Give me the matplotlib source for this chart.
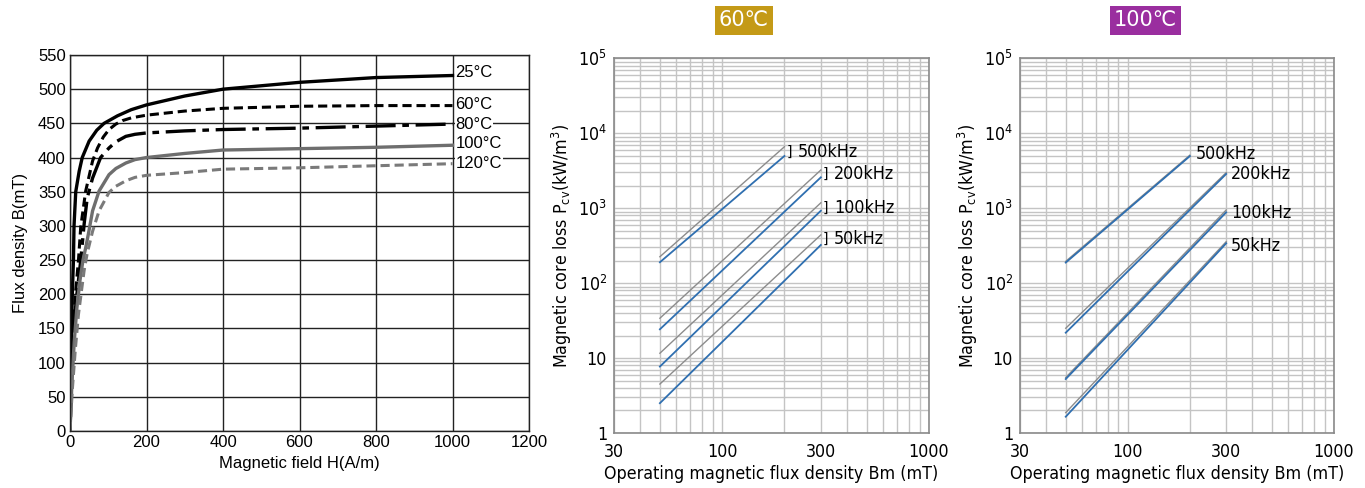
import matplotlib
matplotlib.use('Agg')
import matplotlib.pyplot as plt
from matplotlib import font_manager
from matplotlib.ticker import FixedLocator, FixedFormatter, LogLocator, NullFormatter

# ---------------- data ----------------
bh_labels = ['25°C', '60°C', '80°C', '100°C', '120°C']
H_25 = [0, 2, 4, 6, 9, 10.5, 15, 24, 32, 50, 70, 89, 124, 160, 200, 300, 400, 500, 600, 800, 1000]
B_25 = [0, 70, 140, 200, 250, 300, 350, 380, 400, 424, 440, 450, 461, 470, 477, 490, 500, 505, 510, 517, 520]
H_60 = [0, 4, 9, 14, 22, 28, 41, 59, 72, 87, 102, 120, 137, 160, 200, 250, 300, 400, 600, 800, 1000]
B_60 = [0, 90, 160, 200, 249, 298, 351, 395, 414, 430, 441, 449, 454, 458, 462, 465, 468, 472, 475, 476, 476]
H_80 = [0, 5, 11, 18, 28, 37, 45, 59, 80, 102, 120, 146, 170, 200, 300, 400, 600, 800, 1000]
B_80 = [0, 90, 160, 200, 249, 303, 341, 370, 400, 414, 423, 431, 434, 436, 439, 441, 443, 446, 449]
H_100 = [0, 5, 11, 18, 26, 34, 41, 48, 59, 76, 102, 120, 146, 170, 200, 300, 400, 600, 800, 1000]
B_100 = [0, 70, 130, 180, 220, 250, 268, 288, 322, 351, 375, 384, 392, 397, 400, 406, 411, 413, 415, 418]
H_120 = [0, 6, 14, 22, 30, 37, 45, 59, 76, 102, 120, 146, 170, 200, 300, 400, 600, 800, 1000]
B_120 = [0, 60, 120, 170, 205, 235, 260, 292, 322, 349, 358, 366, 371, 374, 378, 383, 385, 388, 391]
bh_label_y = [524, 478, 449, 420, 391]

freqs = ['500kHz', '200kHz', '100kHz', '50kHz']
bm_start = [50, 50, 50, 50]
bm_end = [200, 300, 300, 300]
p60_gray_start = [225, 34, 11.6, 4.5]
p60_gray_end = [6600, 3230, 1180, 440]
p60_blue_start = [190, 24.2, 7.7, 2.5]
p60_blue_end = [4970, 2580, 925, 323]
p100_gray_start = [195, 25, 5.5, 1.87]
p100_gray_end = [5100, 2980, 946, 357]
p100_blue_start = [188, 21.8, 5.25, 1.65]
p100_blue_end = [4950, 2860, 880, 340]
p60_label_x = [233, 347, 347, 347]
p60_label_y = [5620, 2860, 1000, 388]
p100_label_x = [214, 316, 316, 316]
p100_label_y = [5280, 2860, 870, 315]

x_ticks_log = [30, 100, 300, 1000]
x_ticklabels_log = ['30', '100', '300', '1000']
y_ticks_log = [1, 10, 100, 1000, 10000, 100000]
y_ticklabels_log = ['1', '10', r'$\mathregular{10^2}$', r'$\mathregular{10^3}$',
                    r'$\mathregular{10^4}$', r'$\mathregular{10^5}$']

# ---------------- fonts ----------------
names = {f.name for f in font_manager.fontManager.ttflist}
cond = any(f.name == 'DejaVu Sans' and f.stretch in ('condensed', 'semi-condensed')
           for f in font_manager.fontManager.ttflist)
if 'Liberation Sans Narrow' in names:
    LF = dict(family='Liberation Sans Narrow', size=14)
else:
    LF = dict(family='Liberation Sans', size=12)
if cond:
    RF = dict(family='DejaVu Sans', stretch='condensed', size=12.8)
else:
    RF = dict(family='Noto Sans', size=12.8)

plt.rcParams['mathtext.fontset'] = 'custom'
plt.rcParams['mathtext.rm'] = RF['family']

fig = plt.figure(figsize=(13.65, 4.88), dpi=100)

# ---------------- left B-H chart ----------------
ax = fig.add_axes([70/1365, 1-431/488, 459/1365, 376/488])
ax.set_xlim(0, 1200)
ax.set_ylim(0, 550)
ax.set_xticks(range(0, 1201, 200))
ax.set_yticks(range(0, 551, 50))
ax.grid(True, color='#222222', lw=1.0)
ax.set_axisbelow(True)
ax.tick_params(length=0, pad=3)
for lab in ax.get_xticklabels() + ax.get_yticklabels():
    lab.set_fontfamily(LF['family']); lab.set_fontsize(LF['size'])
for s in ax.spines.values():
    s.set_color('#222222'); s.set_linewidth(1.0)

ax.plot(H_25, B_25, color='black', lw=2.4, solid_joinstyle='round')
ax.plot(H_60, B_60, color='black', lw=2.2, ls=(0, (3, 1.6)))
ax.plot(H_80, B_80, color='black', lw=2.4, ls=(0, (9, 2, 2, 2)))
ax.plot(H_100, B_100, color='#6e6e6e', lw=2.4, solid_joinstyle='round')
ax.plot(H_120, B_120, color='#7a7a7a', lw=2.2, ls=(0, (3, 1.6)))
for t, yv in zip(bh_labels, bh_label_y):
    ax.text(1008, yv, t, ha='left', va='center', fontfamily=LF['family'],
            fontsize=LF['size'], bbox=dict(facecolor='white', edgecolor='none', pad=0.5))
ax.set_xlabel('Magnetic field H(A/m)', fontfamily=LF['family'], fontsize=LF['size'], labelpad=4)
ax.set_ylabel('Flux density B(mT)', fontfamily=LF['family'], fontsize=LF['size'], labelpad=7)


# ---------------- core loss charts ----------------
def core_ax(rect, gs, ge, bs, be, lx, ly, bracket):
    a = fig.add_axes(rect)
    a.set_xscale('log'); a.set_yscale('log')
    a.set_xlim(30, 1000); a.set_ylim(1, 1e5)
    a.xaxis.set_major_locator(FixedLocator(x_ticks_log))
    a.xaxis.set_major_formatter(FixedFormatter(x_ticklabels_log))
    a.yaxis.set_major_locator(FixedLocator(y_ticks_log))
    a.yaxis.set_major_formatter(FixedFormatter(y_ticklabels_log))
    a.xaxis.set_minor_locator(LogLocator(base=10, subs=range(2, 10), numticks=20))
    a.yaxis.set_minor_locator(LogLocator(base=10, subs=range(2, 10), numticks=20))
    a.xaxis.set_minor_formatter(NullFormatter())
    a.yaxis.set_minor_formatter(NullFormatter())
    a.grid(True, which='both', color='#c4c4c4', lw=1.0)
    a.set_axisbelow(True)
    a.tick_params(which='both', length=0)
    a.tick_params(axis='x', pad=7)
    a.tick_params(axis='y', pad=5)
    for lab in a.get_xticklabels() + a.get_yticklabels():
        lab.set_fontfamily(RF['family']); lab.set_fontsize(RF['size'])
        if 'stretch' in RF:
            lab.set_fontstretch(RF['stretch'])
    for s in a.spines.values():
        s.set_color('#8a8a8a'); s.set_linewidth(1.2)
    for i in range(len(freqs)):
        a.plot([bm_start[i], bm_end[i]], [gs[i], ge[i]], color='#8c8c8c', lw=1.0)
        a.plot([bm_start[i], bm_end[i]], [bs[i], be[i]], color='#2f6fb0', lw=1.3)
        a.text(lx[i], ly[i], freqs[i], ha='left', va='center', **RF)
        if bracket:
            a.text(lx[i] * 0.905, ly[i], ']', ha='center', va='center',
                   family=RF['family'], fontsize=10)
    a.set_xlabel('Operating magnetic flux density Bm (mT)', labelpad=3, **RF)
    a.set_ylabel(r'Magnetic core loss P$_{\mathregular{cv}}$(kW/m$^{\mathregular{3}}$)',
                 labelpad=3, **RF)
    return a


core_ax([614/1365, 1-433/488, 315/1365, 374.7/488],
        p60_gray_start, p60_gray_end, p60_blue_start, p60_blue_end,
        p60_label_x, p60_label_y, True)
core_ax([1020/1365, 1-433/488, 314/1365, 374.7/488],
        p100_gray_start, p100_gray_end, p100_blue_start, p100_blue_end,
        p100_label_x, p100_label_y, False)

# titles
fig.text(744/1365, 1-20.5/488, '60℃', ha='center', va='center', color='white',
         fontsize=15, family=['DejaVu Sans'],
         bbox=dict(facecolor='#c49a17', edgecolor='none', pad=3))
fig.text(1145.5/1365, 1-20.5/488, '100℃', ha='center', va='center', color='white',
         fontsize=15, family=['DejaVu Sans'],
         bbox=dict(facecolor='#9a2e9f', edgecolor='none', pad=3))

fig.savefig('out.png', dpi=100)
